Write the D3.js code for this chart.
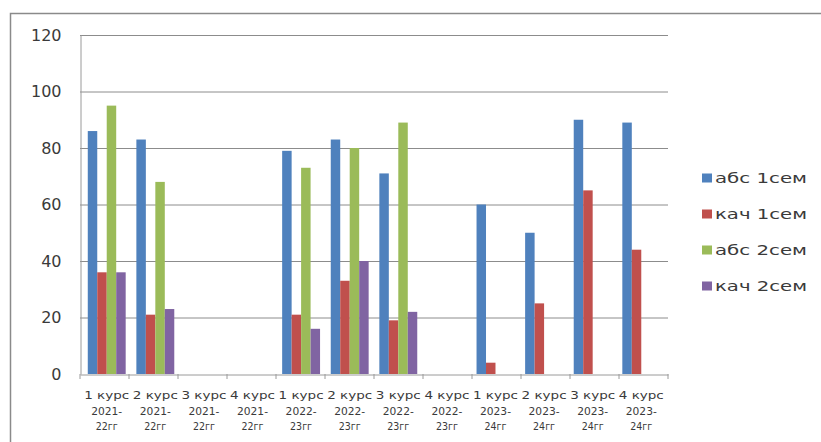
<!DOCTYPE html>
<html><head><meta charset="utf-8">
<script src="https://cdn.jsdelivr.net/npm/d3@7"></script>
<style>body{margin:0;background:#fff}svg{display:block}</style>
</head><body>
<svg id="c" width="821" height="442"></svg>
<script>
const courses = ["1 курс","2 курс","3 курс","4 курс","1 курс","2 курс","3 курс","4 курс","1 курс","2 курс","3 курс","4 курс"];
const years = ["2021-","2021-","2021-","2021-","2022-","2022-","2022-","2022-","2023-","2023-","2023-","2023-"];
const yearEnds = ["22гг","22гг","22гг","22гг","23гг","23гг","23гг","23гг","24гг","24гг","24гг","24гг"];
const seriesNames = ["абс 1сем","кач 1сем","абс 2сем","кач 2сем"];
const abs1 = [86,83,0,0,79,83,71,0,60,50,90,89];
const kach1 = [36,21,0,0,21,33,19,0,4,25,65,44];
const abs2 = [95,68,0,0,73,80,89,0,0,0,0,0];
const kach2 = [36,23,0,0,16,40,22,0,0,0,0,0];
const yTicks = [0,20,40,60,80,100,120];
const colors = ["#4F81BD","#C0504D","#9BBB59","#8064A2"];

const svg = d3.select("#c");
const series = [abs1,kach1,abs2,kach2];
const idx = d3.range(courses.length);
const pLeft=80,pRight=668,pTop=35,pBottom=374;
const font = "'DejaVu Sans', sans-serif";

svg.append("rect").attr("x",10.5).attr("y",13.5).attr("width",830).attr("height",450)
  .attr("fill","#fff").attr("stroke","#8a8a8a").attr("stroke-width",1.5);

const x = d3.scaleBand().domain(idx).range([pLeft,pRight]).paddingInner(0.22).paddingOuter(0.16);
const xs = d3.scaleBand().domain(d3.range(4)).range([0,x.bandwidth()]);
const y = d3.scaleLinear().domain([0,120]).range([pBottom,pTop]);

// gridlines
svg.append("g").selectAll("line").data(yTicks.filter(d=>d>0)).join("line")
  .attr("x1",pLeft).attr("x2",pRight).attr("y1",d=>y(d)+0.5).attr("y2",d=>y(d)+0.5)
  .attr("stroke","#8c8c8c").attr("stroke-width",1);

// bars
series.forEach((s,si)=>{
  svg.append("g").selectAll("rect").data(idx).join("rect")
    .attr("x",i=>x(i)+xs(si)).attr("width",xs.bandwidth())
    .attr("y",i=>y(s[i])).attr("height",i=>y(0)-y(s[i]))
    .attr("fill",colors[si]);
});

// y axis
const ya = d3.axisLeft(y).tickValues(yTicks).tickSize(0).tickPadding(19);
const gy = svg.append("g").attr("transform",`translate(${pLeft+0.5},0)`).call(ya);
gy.select(".domain").attr("stroke","#9a9a9a");
gy.selectAll("text").attr("font-family",font).attr("font-size",16).attr("fill","#3a3a3a");

// x axis
const xa = d3.axisBottom(x).tickSize(0).tickFormat("");
const gx = svg.append("g").attr("transform",`translate(0,${pBottom+0.5})`).call(xa);
gx.select(".domain").attr("stroke","#9a9a9a");
const step = (pRight-pLeft)/courses.length;
svg.append("g").selectAll("line").data(d3.range(courses.length+1)).join("line")
  .attr("x1",i=>pLeft+i*step).attr("x2",i=>pLeft+i*step)
  .attr("y1",pBottom).attr("y2",pBottom+5).attr("stroke","#9a9a9a");

const cx = i=>x(i)+x.bandwidth()/2;
const lines = [[courses,0,45],[years,16,31],[yearEnds,31,22]];
lines.forEach(([arr,dy,len])=>{
  svg.append("g").selectAll("text").data(idx).join("text")
    .attr("x",cx).attr("y",pBottom+25+dy)
    .attr("text-anchor","middle").attr("font-family",font)
    .attr("font-size",11).attr("fill","#3a3a3a")
    .attr("textLength",len).attr("lengthAdjust","spacingAndGlyphs")
    .text(i=>arr[i]);
});

// legend
const lg = svg.append("g").selectAll("g").data(seriesNames).join("g")
  .attr("transform",(d,i)=>`translate(702,${178+i*36})`);
lg.append("rect").attr("x",0).attr("y",-4.5).attr("width",10).attr("height",9).attr("fill",(d,i)=>colors[i]);
lg.append("text").attr("x",13).attr("y",5).text(d=>d)
  .attr("textLength",92).attr("lengthAdjust","spacingAndGlyphs")
  .attr("font-family",font).attr("font-size",14.5).attr("fill","#3a3a3a");
</script>
</body></html>
